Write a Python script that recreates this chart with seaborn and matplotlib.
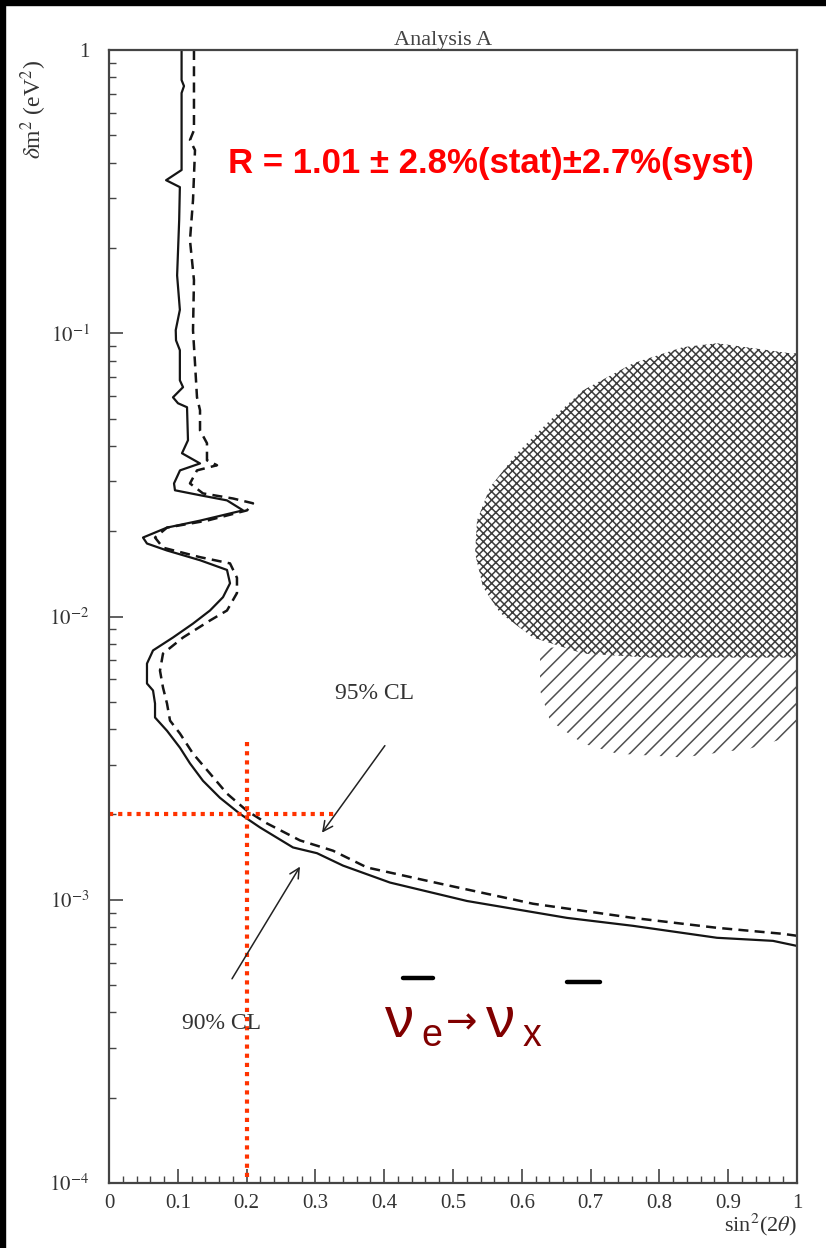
import numpy as np
import pandas as pd
import seaborn as sns
import matplotlib
matplotlib.use("Agg")
import matplotlib.pyplot as plt
from matplotlib.lines import Line2D
from matplotlib.patches import Rectangle
from matplotlib.ticker import FixedLocator, FixedFormatter, LogLocator, NullFormatter, MultipleLocator

# ---------------- data ----------------
# 90% CL exclusion contour (solid)
cl90_sin2 = [0.1055, 0.1055, 0.109, 0.1055, 0.1055, 0.083, 0.103, 0.102, 0.099, 0.103, 0.097,
             0.0974, 0.103, 0.103, 0.1076, 0.093, 0.1003, 0.1134, 0.1148, 0.1061, 0.1323, 0.1032,
             0.0945, 0.0959, 0.1323, 0.1715, 0.1948, 0.1323, 0.0843, 0.0494, 0.0552, 0.0843,
             0.1323, 0.1715, 0.1759, 0.1657, 0.1468, 0.1221, 0.0930, 0.0640, 0.0552, 0.0552,
             0.0640, 0.0669, 0.0669, 0.0843, 0.1032, 0.1177, 0.1366, 0.1613, 0.1904, 0.2195,
             0.2674, 0.3023, 0.3401, 0.4084, 0.5203, 0.6657, 0.7616, 0.8837, 0.965, 1.0]
cl90_dm2 = [1.0, 0.783, 0.746, 0.705, 0.377, 0.347, 0.328, 0.251, 0.160, 0.121, 0.1026,
            0.0944, 0.0871, 0.0682, 0.0645, 0.0594, 0.0566, 0.0548, 0.0419, 0.0377, 0.0347, 0.0328,
            0.0295, 0.0279, 0.0268, 0.0257, 0.0237, 0.0218, 0.0206, 0.0190, 0.0181, 0.0171,
            0.0158, 0.0146, 0.0131, 0.0117, 0.0105, 0.00944, 0.00843, 0.00759, 0.00682, 0.00580,
            0.00548, 0.00493, 0.00440, 0.00395, 0.00344, 0.00303, 0.00263, 0.00229, 0.00201, 0.00180,
            0.00153, 0.00146, 0.00132, 0.00115, 0.00099, 0.000863, 0.000809, 0.000734, 0.000716, 0.000687]

# 95% CL exclusion contour (dashed)
cl95_sin2 = [0.1235, 0.1235, 0.1177, 0.125, 0.1221, 0.1177, 0.1235, 0.1221, 0.125, 0.1279, 0.1323,
             0.1323, 0.1424, 0.1424, 0.157, 0.1279, 0.1177, 0.1366, 0.1802, 0.2093, 0.2006, 0.1424,
             0.0843, 0.0669, 0.0785, 0.1323, 0.1759, 0.186, 0.186, 0.1715, 0.1468, 0.1076, 0.0785,
             0.0741, 0.0785, 0.0843, 0.0887, 0.1032, 0.1221, 0.1468, 0.1715, 0.2006, 0.2297, 0.2776,
             0.3256, 0.375, 0.4811, 0.6163, 0.7616, 0.8837, 0.9797, 1.0]
cl95_dm2 = [1.0, 0.521, 0.481, 0.443, 0.295, 0.213, 0.154, 0.1025, 0.0784, 0.0594, 0.0535,
            0.0454, 0.0409, 0.0356, 0.0342, 0.0328, 0.0295, 0.0272, 0.0261, 0.0251, 0.0237, 0.0218,
            0.0206, 0.0190, 0.0175, 0.0162, 0.0154, 0.0137, 0.0121, 0.0105, 0.00968, 0.00843, 0.00740,
            0.00644, 0.00561, 0.00493, 0.00429, 0.00386, 0.00328, 0.00279, 0.00237, 0.00206, 0.00186, 0.00162,
            0.00149, 0.00130, 0.00114, 0.000968, 0.000863, 0.000796, 0.000758, 0.000746]

# allowed region (cross-hatched)
cross_sin2 = [1.02, 0.99, 0.884, 0.834, 0.7616, 0.689, 0.641, 0.593, 0.5538, 0.5349, 0.532,
              0.5436, 0.5683, 0.6163, 0.689, 0.786, 1.02]
cross_dm2 = [0.0850, 0.0850, 0.0922, 0.0893, 0.0783, 0.0629, 0.0493, 0.0377, 0.0286, 0.0218, 0.0167,
             0.0127, 0.0103, 0.00843, 0.00740, 0.00716, 0.00716]

# allowed region (single hatch)
single_sin2 = [0.6265, 0.6265, 0.641, 0.689, 0.7384, 0.834, 0.9317, 1.02, 1.02]
single_dm2 = [0.00777, 0.00548, 0.00429, 0.00356, 0.00328, 0.00318, 0.00342, 0.00395, 0.00777]

# reference guide lines
guide_sin2 = 0.2
guide_dm2 = 2e-3
guide_h_end = 0.33
guide_v_top = 3.6e-3

xtick_vals = [0, 0.1, 0.2, 0.3, 0.4, 0.5, 0.6, 0.7, 0.8, 0.9, 1.0]
xtick_labels = ["0", "0.1", "0.2", "0.3", "0.4", "0.5", "0.6", "0.7", "0.8", "0.9", "1"]
ytick_vals = [1e-4, 1e-3, 1e-2, 1e-1, 1]
ytick_labels = [r"$10^{-4}$", r"$10^{-3}$", r"$10^{-2}$", r"$10^{-1}$", "1"]

title_text = "Analysis A"
result_text = "R = 1.01 \u00b1 2.8%(stat)\u00b12.7%(syst)"

# ---------------- style ----------------
sns.set_style("white")
plt.rcParams["font.family"] = ["Liberation Serif", "DejaVu Serif"]
plt.rcParams["mathtext.fontset"] = "stix"
plt.rcParams["hatch.linewidth"] = 1.1

W, H = 826, 1248
fig = plt.figure(figsize=(W / 100, H / 100), dpi=100)
fig.patch.set_facecolor("white")

def fx(x):
    return x / W

def fy(y):
    return 1 - y / H

ax = fig.add_axes([fx(109), fy(1183), (797 - 109) / W, (1183 - 50) / H])
ax.set_yscale("log")
ax.set_xlim(0, 1)
ax.set_ylim(1e-4, 1)

# hatched regions
ax.fill(cross_sin2, cross_dm2, facecolor="none", edgecolor="#3c3c3c", hatch="xxxx", linewidth=0)
ax.fill(single_sin2, single_dm2, facecolor="none", edgecolor="#505050", hatch="//", linewidth=0)

# contours
df90 = pd.DataFrame({"sin2": cl90_sin2, "dm2": cl90_dm2})
df95 = pd.DataFrame({"sin2": cl95_sin2, "dm2": cl95_dm2})
sns.lineplot(data=df90, x="sin2", y="dm2", sort=False, estimator=None, color="#151515",
             linewidth=1.6, ax=ax)
sns.lineplot(data=df95, x="sin2", y="dm2", sort=False, estimator=None, color="#151515",
             linewidth=1.8, linestyle=(0, (4, 2.5)), ax=ax)
ax.set_xlabel("")
ax.set_ylabel("")

# red guide lines
ax.plot([0, guide_h_end], [guide_dm2, guide_dm2], color="#ff3300", linewidth=3,
        linestyle=(0, (1, 1.2)), solid_capstyle="butt")
ax.plot([guide_sin2, guide_sin2], [guide_v_top, 1e-4], color="#ff3300", linewidth=3,
        linestyle=(0, (1, 1.2)), clip_on=False)

# annotations
arrow_kw = dict(arrowstyle="->,head_length=0.7,head_width=0.35", color="#222222", lw=1.1,
                shrinkA=0, shrinkB=0)
ax.annotate("", xy=(0.3096, 0.001725), xytext=(0.401, 0.00350), arrowprops=arrow_kw)
ax.annotate("", xy=(0.2776, 0.001309), xytext=(0.1788, 0.000526), arrowprops=arrow_kw)
ax.text(0.3866, 0.00535, "95% CL", ha="center", va="center", fontsize=17, color="#333333")
ax.text(0.1642, 0.000367, "90% CL", ha="center", va="center", fontsize=17, color="#333333")

# axes styling
for s in ax.spines.values():
    s.set_color("#444444")
    s.set_linewidth(1.6)
ax.xaxis.set_major_locator(FixedLocator(xtick_vals))
ax.xaxis.set_major_formatter(FixedFormatter(xtick_labels))
ax.xaxis.set_minor_locator(MultipleLocator(0.02))
ax.yaxis.set_major_locator(FixedLocator(ytick_vals))
ax.yaxis.set_major_formatter(FixedFormatter(ytick_labels))
ax.yaxis.set_minor_locator(LogLocator(base=10, subs=np.arange(2, 10)))
ax.yaxis.set_minor_formatter(NullFormatter())
ax.tick_params(which="both", direction="in", color="#444444", left=True, bottom=True,
               top=False, right=False)
ax.tick_params(which="major", length=10, width=1.2, labelsize=15, labelcolor="#333333")
ax.tick_params(which="minor", length=5, width=1.0)
ax.tick_params(axis="y", which="major", pad=14)
ax.tick_params(axis="x", which="major", pad=8)
ax.grid(False)

# titles and labels
fig.text(fx(443), fy(40), title_text, ha="center", va="center", fontsize=16, color="#444444")
fig.text(fx(34), fy(110), r"$\delta$m$^2$ (eV$^2$)", rotation=90, ha="center", va="center",
         fontsize=17, color="#333333")
fig.text(fx(797), fy(1225), r"sin$^2$(2$\theta$)", ha="right", va="center", fontsize=16,
         color="#333333")

fig.text(fx(228), fy(163), result_text, ha="left", va="center", fontsize=25,
         fontweight="bold", color="#ff0000", family="Liberation Sans")

# neutrino channel label
nu_col = "#800000"
fig.text(fx(385), fy(1037), "\u03bd", ha="left", va="baseline", fontsize=42, color=nu_col,
         family="Liberation Sans")
fig.text(fx(421), fy(1046), "e", ha="left", va="baseline", fontsize=27, color=nu_col,
         family="Liberation Sans")
fig.text(fx(446), fy(1033), "\u2192", ha="left", va="baseline", fontsize=27, color=nu_col,
         family="DejaVu Sans")
fig.text(fx(486), fy(1037), "\u03bd", ha="left", va="baseline", fontsize=42, color=nu_col,
         family="Liberation Sans")
fig.text(fx(523), fy(1046), "x", ha="left", va="baseline", fontsize=27, color=nu_col,
         family="Liberation Sans")
fig.add_artist(Line2D([fx(403), fx(433)], [fy(978), fy(978)], color="black", linewidth=3.2,
                      transform=fig.transFigure))
fig.add_artist(Line2D([fx(567), fx(600)], [fy(982), fy(982)], color="black", linewidth=3.2,
                      transform=fig.transFigure))

# dark frame edges of the scanned image
fig.add_artist(Rectangle((0, fy(5)), 1, 5 / H, transform=fig.transFigure, color="black", zorder=10))
fig.add_artist(Rectangle((0, 0), 5 / W, 1, transform=fig.transFigure, color="black", zorder=10))

fig.savefig("out.png", dpi=100, facecolor="white")
